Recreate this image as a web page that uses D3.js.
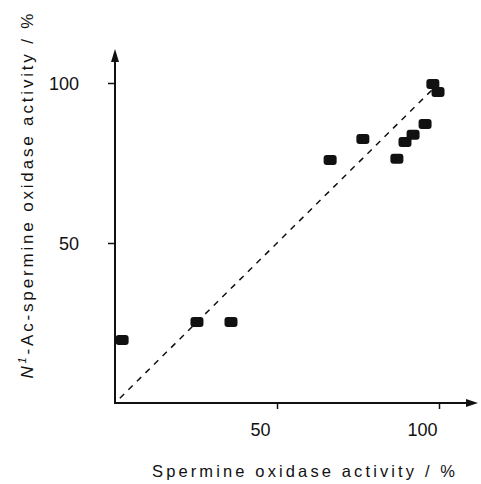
<!DOCTYPE html>
<html>
<head>
<meta charset="utf-8">
<script src="https://cdn.jsdelivr.net/npm/d3@7"></script>
<style>
  body { margin: 0; background: #fff; }
  text { font-family: "Liberation Sans", Arial, sans-serif; fill: #111; }
</style>
</head>
<body>
<script>
// spermine oxidase activity (%) vs N1-Ac-spermine oxidase activity (%)
const spermineActivity = [2.2, 25.3, 35.8, 66.4, 76.5, 87.0, 89.5, 92.0, 95.7, 98.1, 99.7];
const acSpermineActivity = [19.7, 25.3, 25.3, 75.9, 82.5, 76.3, 81.6, 83.8, 87.2, 99.7, 97.2];
const tickValues = [50, 100];
const identityLine = [1.5, 98];

function makeChart() {
  const width = 481;
  const height = 484;

  const svg = d3.select("body").append("svg")
    .attr("width", width)
    .attr("height", height);

  const xScale = d3.scaleLinear()
    .domain([0, 100])
    .range([115, 439]);

  const yScale = d3.scaleLinear()
    .domain([0, 100])
    .range([403, 83]);

  const x0 = xScale(0), y0 = yScale(0);

  // axes lines with arrows
  svg.append("line")
    .attr("x1", x0).attr("y1", y0)
    .attr("x2", 468).attr("y2", y0)
    .attr("stroke", "#111").attr("stroke-width", 2);
  svg.append("path")
    .attr("d", `M478,${y0} L466,${y0 - 4} L466,${y0 + 4} Z`)
    .attr("fill", "#111");

  svg.append("line")
    .attr("x1", x0).attr("y1", y0 + 1)
    .attr("x2", x0).attr("y2", 58)
    .attr("stroke", "#111").attr("stroke-width", 2);
  svg.append("path")
    .attr("d", `M${x0},49 L${x0 - 4},62 L${x0 + 4},62 Z`)
    .attr("fill", "#111");

  // x axis ticks
  const xAxis = d3.axisBottom(xScale)
    .tickValues(tickValues)
    .tickSize(6)
    .tickSizeOuter(0);
  const gx = svg.append("g")
    .attr("transform", `translate(0,${y0})`)
    .call(xAxis);
  gx.select(".domain").remove();
  gx.selectAll(".tick line").attr("stroke", "#111").attr("stroke-width", 1.5);
  gx.selectAll(".tick text")
    .attr("x", -17)
    .attr("y", 33)
    .attr("dy", null)
    .style("font-size", "18px")
    .style("font-family", "'Liberation Sans', Arial, sans-serif")
    .attr("fill", "#111");

  // y axis ticks
  const yAxis = d3.axisLeft(yScale)
    .tickValues(tickValues)
    .tickSize(7)
    .tickSizeOuter(0);
  const gy = svg.append("g")
    .attr("transform", `translate(${x0},0)`)
    .call(yAxis);
  gy.select(".domain").remove();
  gy.selectAll(".tick line").attr("stroke", "#111").attr("stroke-width", 1.5);
  gy.selectAll(".tick text")
    .attr("x", -36)
    .attr("dy", "0.35em")
    .style("font-size", "18px")
    .style("font-family", "'Liberation Sans', Arial, sans-serif")
    .attr("fill", "#111");

  // dashed identity line
  svg.append("line")
    .attr("x1", xScale(identityLine[0])).attr("y1", yScale(identityLine[0]))
    .attr("x2", xScale(identityLine[1])).attr("y2", yScale(identityLine[1]))
    .attr("stroke", "#111")
    .attr("stroke-width", 1.5)
    .attr("stroke-dasharray", "6,6");

  // points
  const points = spermineActivity.map((v, i) => ({ x: v, y: acSpermineActivity[i] }));
  svg.append("g")
    .selectAll("rect")
    .data(points)
    .join("rect")
    .attr("x", d => xScale(d.x) - 6.5)
    .attr("y", d => yScale(d.y) - 5)
    .attr("width", 13)
    .attr("height", 10)
    .attr("rx", 3)
    .attr("fill", "#111");

  // axis titles
  svg.append("text")
    .attr("x", 303.5)
    .attr("y", 477)
    .attr("text-anchor", "middle")
    .attr("textLength", 303)
    .attr("lengthAdjust", "spacing")
    .style("font-size", "16.5px")
    .text("Spermine oxidase activity / %");

  const yTitle = svg.append("text")
    .attr("transform", "translate(33,196) rotate(-90)")
    .attr("text-anchor", "middle")
    .attr("textLength", 365)
    .attr("lengthAdjust", "spacing")
    .style("font-size", "17px");
  yTitle.append("tspan").style("font-style", "italic").text("N");
  yTitle.append("tspan").style("font-style", "italic").style("font-size", "11px").attr("dy", -7).text("1");
  yTitle.append("tspan").attr("dy", 7).text("-Ac-spermine oxidase activity / %");
}

makeChart();
</script>
</body>
</html>
